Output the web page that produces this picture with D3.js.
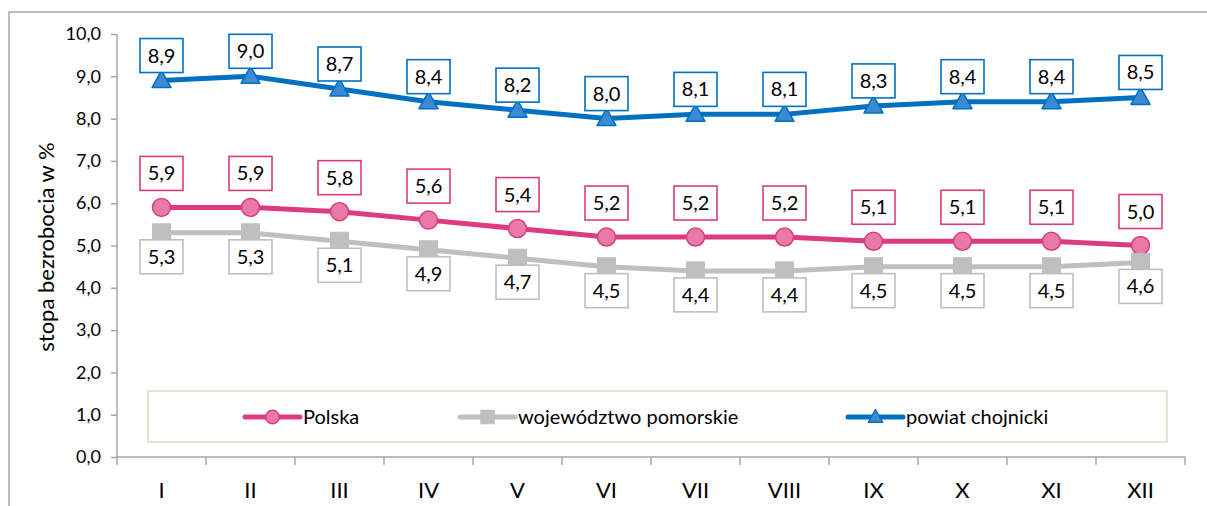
<!DOCTYPE html>
<html><head><meta charset="utf-8">
<script src="https://cdn.jsdelivr.net/npm/d3@7"></script>
<style>body{margin:0;background:#fff;} svg{display:block;font-family:Lato, "Open Sans", sans-serif;}</style>
</head><body>
<svg id="c" width="1207" height="506"></svg>
<script>
const categories = ["I","II","III","IV","V","VI","VII","VIII","IX","X","XI","XII"];
const polska = [5.9,5.9,5.8,5.6,5.4,5.2,5.2,5.2,5.1,5.1,5.1,5.0];
const pomorskie = [5.3,5.3,5.1,4.9,4.7,4.5,4.4,4.4,4.5,4.5,4.5,4.6];
const chojnicki = [8.9,9.0,8.7,8.4,8.2,8.0,8.1,8.1,8.3,8.4,8.4,8.5];
const yTicks = [0,1,2,3,4,5,6,7,8,9,10];
const seriesNames = ["Polska","województwo pomorskie","powiat chojnicki"];

const svg = d3.select("#c");
// outer frame
svg.append("rect").attr("x",9).attr("y",12).attr("width",1300).attr("height",600)
  .attr("fill","none").attr("stroke","#a6a6a6").attr("stroke-width",1.5);

const x = d3.scaleBand().domain(categories).range([117,1185]);
const y = d3.scaleLinear().domain([0,10]).range([457,34]);
const fmt = v => d3.format(".1f")(v).replace(".",",");
const cx = c => x(c)+x.bandwidth()/2;

// y axis
const ya = svg.append("g").attr("transform","translate(117,0)")
  .call(d3.axisLeft(y).tickValues(yTicks).tickFormat(fmt).tickSize(6).tickPadding(10));
ya.select(".domain").attr("stroke","#a6a6a6").attr("stroke-width",1.5).attr("d","M0,34V457");
ya.selectAll(".tick line").attr("stroke","#a6a6a6").attr("stroke-width",1.5);
ya.selectAll(".tick text").attr("font-size",18).attr("fill","#000").attr("font-family","Lato, sans-serif");

// x axis
const xa = svg.append("g").attr("transform","translate(0,457)")
  .call(d3.axisBottom(x).tickSize(0).tickPadding(25));
xa.select(".domain").attr("stroke","#a6a6a6").attr("stroke-width",1.5).attr("d","M117,0H1185");
xa.selectAll(".tick text").attr("font-size",22).attr("fill","#000").attr("font-family","Lato, sans-serif");
const xt = d3.range(categories.length+1).map(i => 117 + i*x.bandwidth());
xa.selectAll(".sep").data(xt).enter().append("line").attr("class","sep")
  .attr("x1",d=>d).attr("x2",d=>d).attr("y1",0).attr("y2",8)
  .attr("stroke","#a6a6a6").attr("stroke-width",1.5);

// y title
svg.append("text").attr("transform","translate(54,247) rotate(-90)")
  .attr("text-anchor","middle").attr("font-size",22).attr("fill","#000").text("stopa bezrobocia w %");

// legend box
svg.append("rect").attr("x",148).attr("y",391).attr("width",1019).attr("height",51)
  .attr("fill","#fff").attr("stroke","#ddd9c3").attr("stroke-width",1.5);

const styles = [
  {data:polska, line:"#dc3b7e", fill:"#e97aa8", stroke:"#d83e7d", marker:"circle", labelDir:-1, gap:17},
  {data:pomorskie, line:"#bfbfbf", fill:"#bfbfbf", stroke:"#bfbfbf", marker:"square", labelDir:1, gap:7},
  {data:chojnicki, line:"#0070c0", fill:"#3c8ad2", stroke:"#0070c0", marker:"triangle", labelDir:-1, gap:8}
];

function drawMarker(g, type, s, px, py, scale){
  scale = scale||1;
  if(type==="circle"){
    g.append("circle").attr("cx",px).attr("cy",py).attr("r",9*scale)
      .attr("fill",s.fill).attr("stroke",s.stroke).attr("stroke-width",1.5);
  } else if(type==="square"){
    const h=9*scale;
    g.append("rect").attr("x",px-h).attr("y",py-h).attr("width",2*h).attr("height",2*h)
      .attr("fill",s.fill).attr("stroke",s.stroke).attr("stroke-width",1);
  } else {
    const w=9.5*scale, t=10*scale, b=7*scale;
    g.append("path").attr("d",`M${px},${py-t}L${px+w},${py+b}L${px-w},${py+b}Z`)
      .attr("fill",s.fill).attr("stroke",s.stroke).attr("stroke-width",1.5).attr("stroke-linejoin","round");
  }
}

const line = d3.line().x((d,i)=>cx(categories[i])).y(d=>y(d));
styles.forEach(s=>{
  svg.append("path").datum(s.data).attr("d",line).attr("fill","none")
    .attr("stroke",s.line).attr("stroke-width",5).attr("stroke-linejoin","round");
});
styles.forEach(s=>{
  const g = svg.append("g");
  s.data.forEach((v,i)=>drawMarker(g,s.marker,s,cx(categories[i]),y(v)));
});
// labels
const bw=43, bh=34;
styles.forEach(s=>{
  const g = svg.append("g");
  s.data.forEach((v,i)=>{
    const px=cx(categories[i]), py=y(v);
    const top = s.labelDir<0 ? py - s.gap - bh : py + s.gap;
    g.append("rect").attr("x",px-bw/2).attr("y",top).attr("width",bw).attr("height",bh)
      .attr("fill","#fff").attr("stroke",s.stroke).attr("stroke-width",1.6);
    g.append("text").attr("x",px).attr("y",top+bh/2+7).attr("text-anchor","middle")
      .attr("font-size",20).attr("fill","#000").text(fmt(v));
  });
});

// legend entries
const legX = [245, 460, 848];
styles.forEach((s,i)=>{
  const g = svg.append("g");
  const ly = 417;
  g.append("line").attr("x1",legX[i]).attr("x2",legX[i]+55).attr("y1",ly).attr("y2",ly)
    .attr("stroke",s.line).attr("stroke-width",5).attr("stroke-linecap","round");
  drawMarker(g,s.marker,s,legX[i]+27.5,ly,0.75);
  g.append("text").attr("x",legX[i]+58).attr("y",ly+7).attr("font-size",20).attr("fill","#000").text(seriesNames[i]);
});
</script>
</body></html>
